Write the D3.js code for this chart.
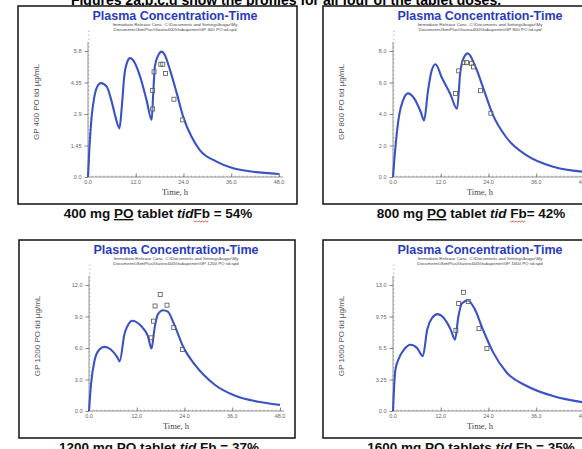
<!DOCTYPE html>
<html>
<head>
<meta charset="utf-8">
<script src="https://cdn.jsdelivr.net/npm/d3@7"></script>
<style>
  body { margin: 0; background: #fff; overflow: hidden; }
  svg { display: block; }
</style>
</head>
<body>
<div id="chart"></div>
<script>
// simulated profiles, [time h, conc ug/mL]
const curve400 = [[0,0],[0.33,1.24],[0.92,2.78],[1.6,3.7],[2.6,4.24],[3.26,4.32],[4.7,4.16],[5.95,3.47],[7.0,2.7],[7.9,2.24],
  [8.5,3.24],[9.1,4.62],[9.9,5.31],[10.55,5.47],[11.8,5.24],[13.1,4.62],[14.7,3.55],[16.0,2.63],
  [16.4,3.86],[16.8,5.08],[17.7,5.62],[18.5,5.77],[19.3,5.62],[20.6,4.93],[22.3,3.86],[23.9,2.78],[26.0,1.86],
  [28.1,1.24],[32.3,0.71],[36.5,0.4],[41.5,0.24],[48,0.14]];
const curve800 = [[0,0],[0.4,1.3],[0.77,2.33],[1.6,4.0],[2.5,4.85],[3.75,5.31],[5.4,4.96],[7.0,4.11],[7.8,3.59],
  [8.8,5.48],[9.7,6.74],[10.7,7.16],[12.25,6.32],[14.4,5.27],[16.1,4.33],
  [16.9,6.63],[17.8,7.58],[18.8,7.85],[20.8,6.95],[22.9,5.48],[25,4.01],[28.4,2.54],[33.5,1.39],[40.3,0.65],[48,0.33]];
const curve1200 = [[0,0],[0.5,2.5],[1.35,4.73],[2.6,5.86],[3.86,6.11],[5.5,5.86],[7.2,5.06],[7.7,4.73],
  [8.9,7.3],[10.2,8.42],[10.8,8.6],[13.1,8.09],[14.8,7.13],[15.7,5.95],
  [16.5,7.94],[17.3,9.2],[18.6,9.6],[19.8,9.47],[21.4,8.25],[23.6,6.17],[26.6,4.41],[31.6,2.5],[36.6,1.47],[43.3,0.83],[48,0.58]];
const curve1600 = [[0,0],[0.58,4.2],[1.45,5.4],[2.7,6.3],[4.4,6.83],[6.1,6.48],[7.5,5.66],
  [8.6,8.4],[9.9,9.64],[11.2,10.0],[13.3,9.3],[14.5,8.4],[15.6,7.36],
  [16.4,9.67],[17.3,11.1],[18.8,11.4],[20.5,10.55],[22.6,8.4],[25.1,6.1],[28.5,4.0],[33.6,2.58],[40.4,1.52],[48,0.88]];

// observed concentrations (open squares)
const obs400 = [[16.25,3.13],[16.25,3.98],[16.6,4.84],[18.3,5.19],[18.8,5.19],[19.5,4.76],[21.6,3.58],[23.8,2.63]];
const obs800 = [[15.7,5.31],[16.5,6.74],[17.8,7.26],[18.5,7.26],[19.7,7.22],[20.2,6.99],[22.0,5.48],[24.6,4.05]];
const obs1200 = [[15.6,6.97],[16.2,8.56],[16.6,10.0],[17.9,11.1],[19.6,10.08],[21.3,7.94],[23.5,5.86]];
const obs1600 = [[15.8,8.3],[16.5,11.1],[17.7,12.25],[18.9,11.3],[21.6,8.5],[23.6,6.45]];

const xTicks = [0, 12, 24, 36, 48];
const xTickLabels = ["0.0", "12.0", "24.0", "36.0", "48.0"];
const yTicks400 = [0, 1.45, 2.9, 4.35, 5.8];
const yTicks800 = [0, 2, 4, 6, 8];
const yTicks1200 = [0, 3, 6, 9, 12];
const yTicks1600 = [0, 3.25, 6.5, 9.75, 13];
const yTickLabels400 = ["0.0", "1.45", "2.9", "4.35", "5.8"];
const yTickLabels800 = ["0.0", "2.0", "4.0", "6.0", "8.0"];
const yTickLabels1200 = ["0.0", "3.0", "6.0", "9.0", "12.0"];
const yTickLabels1600 = ["0.0", "3.25", "6.5", "9.75", "13.0"];

const doses = ["400", "800", "1200", "1600"];
const captions = [
  ["400 mg ", "PO", " tablet ", "tid", "Fb", " = 54%"],
  ["800 mg ", "PO", " tablet ", "tid", " Fb", "= 42%"],
  ["1200 mg ", "PO", " tablet ", "tid", " Fb", " = 37%"],
  ["1600 mg ", "PO", " tablets ", "tid", " Fb", " = 35%"]
];

const panels = [
  {box: [18, 6, 279], curve: curve400, obs: obs400, ticks: yTicks400, labels: yTickLabels400},
  {box: [323, 6, 300], curve: curve800, obs: obs800, ticks: yTicks800, labels: yTickLabels800},
  {box: [19, 240, 276], curve: curve1200, obs: obs1200, ticks: yTicks1200, labels: yTickLabels1200},
  {box: [323, 240, 300], curve: curve1600, obs: obs1600, ticks: yTicks1600, labels: yTickLabels1600}
];

const svg = d3.select("#chart").append("svg")
  .attr("width", 582).attr("height", 449);

svg.append("text")
  .attr("x", 286).attr("y", 5)
  .attr("text-anchor", "middle")
  .style("font", "bold 14px 'Liberation Sans', Arial, sans-serif")
  .text("Figures 2a,b,c,d show the profiles for all four of the tablet doses.");

// little red spell-check squiggle under a tspan
const squiggle = (node, skip) => {
  const n = node.getNumberOfChars();
  const a = node.getStartPositionOfChar(skip);
  const b = node.getEndPositionOfChar(n - 1);
  const pts = d3.range(a.x, b.x, 1.5).map((px, k) => [px, a.y + 3 + (k % 2 ? 1 : 0)]);
  svg.append("path").attr("d", d3.line()(pts))
    .attr("fill", "none").attr("stroke", "#d33").attr("stroke-width", 0.8);
};

panels.forEach((p, i) => {
  const [bx, by, bw] = p.box;
  const g = svg.append("g");

  g.append("rect")
    .attr("x", bx).attr("y", by).attr("width", bw).attr("height", 198)
    .attr("fill", "#fff").attr("stroke", "#111").attr("stroke-width", 1.5);

  const cx = bx + 157;
  g.append("text")
    .attr("x", cx).attr("y", by + 14)
    .attr("text-anchor", "middle").attr("fill", "#2a3cc0")
    .style("font", "bold 12.5px 'Liberation Sans', Arial, sans-serif")
    .text("Plasma Concentration-Time");
  g.append("text")
    .attr("x", cx).attr("y", by + 19.5)
    .attr("text-anchor", "middle").attr("fill", "#444")
    .style("font", "4.4px 'Liberation Sans', Arial, sans-serif")
    .text("Immediate Release   Conc. C:\\Documents and Settings\\bugar\\My");
  g.append("text")
    .attr("x", cx).attr("y", by + 25)
    .attr("text-anchor", "middle").attr("fill", "#444")
    .style("font", "4.4px 'Liberation Sans', Arial, sans-serif")
    .text(`Documents\\SimPlus\\Gastro400\\Gabapentin\\GP ${doses[i]} PO tid.spd`);

  const x0 = bx + 70, y0 = by + 171;
  const x = d3.scaleLinear().domain([0, 48]).range([x0, x0 + 191]);
  const y = d3.scaleLinear().domain([0, d3.max(p.ticks)]).range([y0, by + 45]);

  // axes lines with minor ticks
  const ax = g.append("g").attr("stroke", "#777").attr("fill", "none");
  ax.append("line").attr("x1", x0).attr("x2", x(48) + 4).attr("y1", y0).attr("y2", y0).attr("stroke-width", 0.8);
  ax.append("line").attr("x1", x0).attr("x2", x0).attr("y1", y0).attr("y2", by + 36).attr("stroke-width", 0.8);
  ax.selectAll(".mx").data(d3.range(1, 49)).join("line")
    .attr("x1", d => x(d)).attr("x2", d => x(d))
    .attr("y1", y0).attr("y2", y0 - 1.5).attr("stroke-width", 0.5);
  const yMax = d3.max(p.ticks);
  ax.selectAll(".my").data(d3.range(1, 38).map(k => k * yMax / 32)).join("line")
    .attr("x1", x0).attr("x2", x0 + 1.5)
    .attr("y1", d => y(d)).attr("y2", d => y(d)).attr("stroke-width", 0.5);

  g.append("g").attr("transform", `translate(0,${y0})`)
    .call(d3.axisTop(x).tickValues(xTicks).tickSize(3.5).tickFormat(""))
    .call(s => s.select(".domain").remove())
    .call(s => s.selectAll("line").attr("stroke", "#666").attr("stroke-width", 0.8));
  g.append("g").attr("transform", `translate(0,${y0 + 7})`)
    .selectAll("text").data(xTicks).join("text")
    .attr("x", d => x(d)).attr("text-anchor", "middle").attr("fill", "#666")
    .style("font", "5.5px 'Liberation Sans', Arial, sans-serif")
    .text((d, k) => xTickLabels[k]);

  g.append("g").attr("transform", `translate(${x0},0)`)
    .call(d3.axisLeft(y).tickValues(p.ticks).tickSize(3.5).tickPadding(3)
      .tickFormat((d, k) => p.labels[k]))
    .call(s => s.select(".domain").remove())
    .call(s => s.selectAll("line").attr("stroke", "#666").attr("stroke-width", 0.8))
    .call(s => s.selectAll("text").attr("fill", "#666")
      .style("font", "5.5px 'Liberation Sans', Arial, sans-serif"));

  g.append("text")
    .attr("transform", `translate(${bx + 21},${by + 96}) rotate(-90)`)
    .attr("text-anchor", "middle").attr("fill", "#555")
    .style("font", "8px 'Liberation Sans', Arial, sans-serif")
    .text(`GP ${doses[i]} PO tid  µg/mL`);
  g.append("text")
    .attr("x", bx + 157).attr("y", by + 189)
    .attr("text-anchor", "middle").attr("fill", "#444")
    .style("font", "8.5px 'Liberation Serif', 'Times New Roman', serif")
    .text("Time, h");

  const line = d3.line().x(d => x(d[0])).y(d => y(d[1])).curve(d3.curveMonotoneX);
  g.append("path").datum(p.curve)
    .attr("d", line).attr("fill", "none")
    .attr("stroke", "#3a52c4").attr("stroke-width", 2.1).attr("stroke-linejoin", "round");

  g.selectAll(".obs").data(p.obs).join("rect")
    .attr("x", d => x(d[0]) - 2).attr("y", d => y(d[1]) - 2)
    .attr("width", 4).attr("height", 4)
    .attr("fill", "#fff").attr("fill-opacity", 0.3)
    .attr("stroke", "#555").attr("stroke-width", 0.8);

  // caption under the box
  const c = captions[i];
  const t = svg.append("text")
    .attr("x", bx + (i % 2 ? 148 : 140)).attr("y", by + 212)
    .attr("text-anchor", "middle").attr("fill", "#111")
    .style("font", "bold 13.5px 'Liberation Sans', Arial, sans-serif");
  t.append("tspan").text(c[0]);
  t.append("tspan").style("text-decoration", "underline").text(c[1]);
  t.append("tspan").text(c[2]);
  t.append("tspan").style("font-style", "italic").text(c[3]);
  const fb = t.append("tspan").text(c[4]);
  t.append("tspan").text(c[5]);
  if (i < 2) squiggle(fb.node(), c[4].startsWith(" ") ? 1 : 0);
});
</script>
</body>
</html>
